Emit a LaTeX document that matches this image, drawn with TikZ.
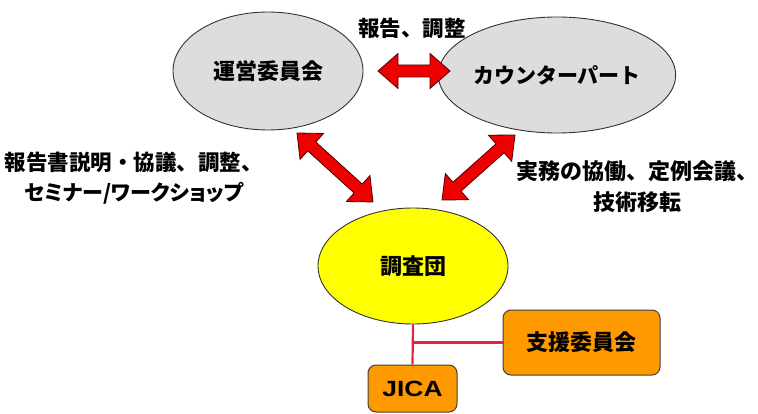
\documentclass[tikz,border=0pt]{standalone}
\usepackage{fontspec}
\setmainfont{Noto Sans CJK JP}
\newfontfamily\jppalt{Noto Sans CJK JP}[RawFeature=+palt]
\newfontfamily\latinsans{Liberation Sans}
\usetikzlibrary{calc,shapes.geometric}
\definecolor{ellgray}{RGB}{221,221,221}
\definecolor{ellyellow}{RGB}{255,255,0}
\definecolor{boxorange}{RGB}{255,153,0}
\definecolor{arrred}{RGB}{238,0,0}
\definecolor{linered}{RGB}{232,36,60}
\newcommand{\blockarrow}[2]{%
  \path let \p1=($(#2)-(#1)$) in
    \pgfextra{\pgfmathsetmacro\tmpang{atan2(\y1,\x1)}\global\let\bkang\tmpang
              \pgfmathsetmacro\tmplen{veclen(\x1,\y1)}\global\let\bklen\tmplen};
  \begin{scope}[shift={(#1)}, rotate=\bkang]
    \draw[bkarrow] (0,0) -- (20,17.5) -- (20,6) -- (\bklen-20,6) -- (\bklen-20,17.5)
      -- (\bklen,0) -- (\bklen-20,-17.5) -- (\bklen-20,-6) -- (20,-6) -- (20,-17.5) -- cycle;
  \end{scope}}
\begin{document}
\begin{tikzpicture}[x=1pt,y=1pt,
  grayell/.style={ellipse, draw=black!80, line width=0.9pt, fill=ellgray,
    minimum width=190pt, minimum height=118pt, inner sep=0pt},
  yellowell/.style={ellipse, draw=black!80, line width=0.9pt, fill=ellyellow,
    minimum width=190pt, minimum height=116pt, inner sep=0pt},
  orbox/.style={rectangle, rounded corners=8pt, draw=black!75, line width=1pt,
    fill=boxorange, inner sep=0pt},
  lbl/.style={align=center, inner sep=0pt},
  bkarrow/.style={fill=arrred, draw=black!70!red, line width=0.8pt, line join=miter},
  conn/.style={draw=linered, line width=2.2pt}]
\useasboundingbox (0,0) rectangle (758,-414);
% main nodes
\node[grayell, font=\bfseries\fontsize{22}{26}\selectfont] (unei) at (268,-71) {運営委員会};
\node[grayell, minimum height=116pt, font=\bfseries\fontsize{21}{25}\selectfont] (cp) at (557,-75) {カウンターパート};
\node[yellowell, font=\bfseries\fontsize{22}{26}\selectfont] (chosa) at (413,-266) {調査団};
\node[orbox, minimum width=157pt, minimum height=65pt, font=\bfseries\fontsize{22}{26}\selectfont] (shien) at (581.5,-342.5) {支援委員会};
\node[orbox, minimum width=89pt, minimum height=47pt, font=\latinsans\bfseries\fontsize{22}{26}\selectfont] (jica) at (412.5,-388.5)
  {\scalebox{1.2}[1]{JICA}};
% labels
\node[lbl, font=\bfseries\fontsize{21.5}{25}\selectfont] (lab0) at (412,-28) {報告、調整};
\node[lbl, font=\bfseries\fontsize{21.5}{30}\selectfont] (lab1) at (134,-178)
  {報告書説明・協議、調整、\\{\jppalt\bfseries\fontsize{21}{30}\selectfont セミナー/ワークショップ}};
\node[lbl, font=\bfseries\fontsize{22}{31}\selectfont] (lab2) at (637,-187) {実務の協働、定例会議、\\技術移転};
% arrow end points
\coordinate (h1) at (378,-71);
\coordinate (h2) at (450,-71);
\coordinate (d1a) at (297,-133);
\coordinate (d1b) at (373,-202);
\coordinate (d2a) at (515,-135);
\coordinate (d2b) at (442,-200);
\blockarrow{h1}{h2}
\blockarrow{d1a}{d1b}
\blockarrow{d2a}{d2b}
% connectors
\coordinate (jn) at (chosa.south |- shien.west);
\draw[conn] (chosa.south) -- (jica.north);
\draw[conn] (jn) -- (shien.west);
\end{tikzpicture}
\end{document}
